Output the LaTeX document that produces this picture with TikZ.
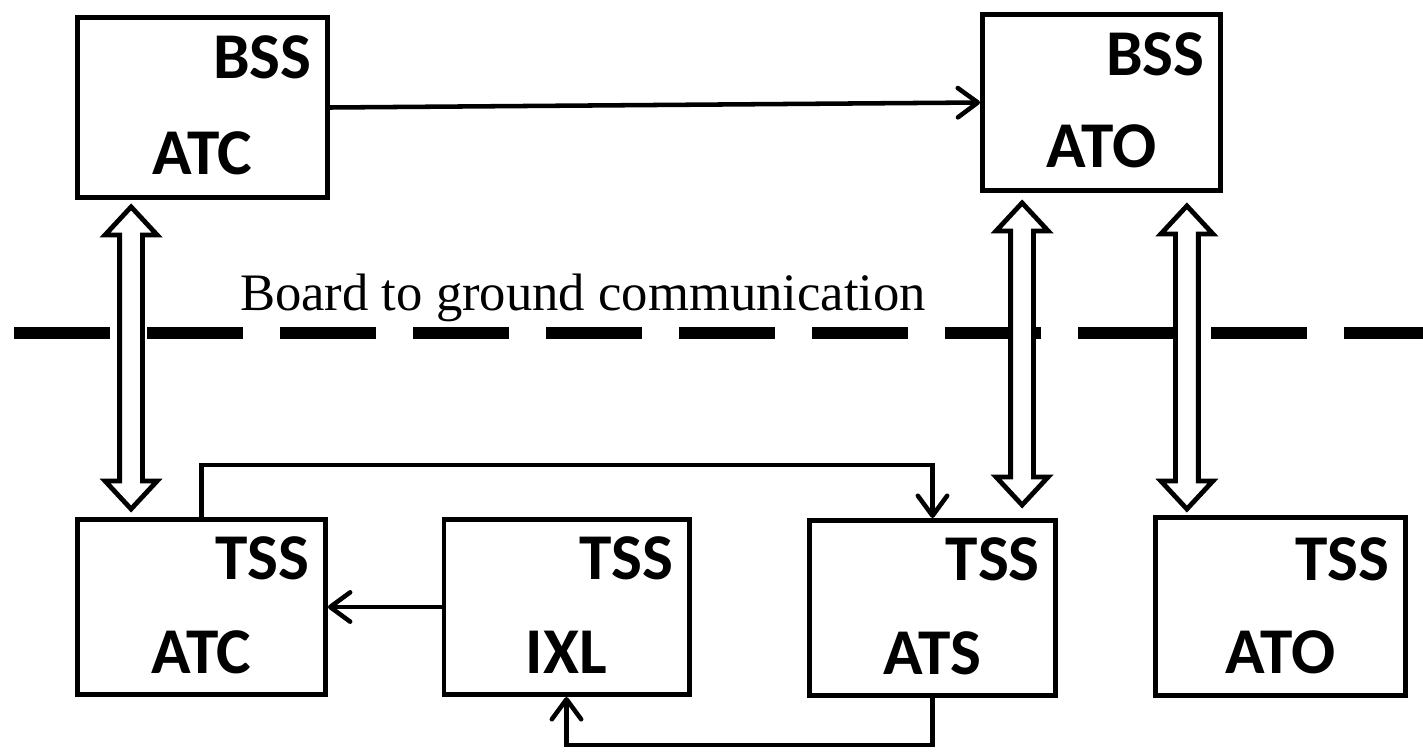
\documentclass[tikz,border=0pt]{standalone}
\usepackage{fontspec}
\usepackage{graphicx}
\setmainfont{Carlito}
\newfontfamily\tnr{Liberation Serif}
\usetikzlibrary{arrows.meta,calc}
\begin{document}
\begin{tikzpicture}[x=0.75pt,y=-0.75pt,
  box/.style={draw, line width=3.6pt, inner sep=0pt, fill=white},
  lab/.style={font=\bfseries\fontsize{49}{49}\selectfont, inner sep=0pt},
  conn/.style={line width=3.4pt, -{Straight Barb[length=15pt,width=22pt,round]}},
  sep/.style={line width=9pt, dash pattern=on 72pt off 27.75pt},
  hollow/.style={draw, fill=white, line width=3.6pt, line join=miter,
    to path={let \p1=(\tikztostart), \p2=(\tikztotarget) in
      (\x1,\y1) -- (\x1+19.5pt,\y1-21pt) -- (\x1+8.6pt,\y1-21pt)
      -- (\x1+8.6pt,\y2+21pt) -- (\x1+19.5pt,\y2+21pt) -- (\x1,\y2)
      -- (\x1-19.5pt,\y2+21pt) -- (\x1-8.6pt,\y2+21pt)
      -- (\x1-8.6pt,\y1-21pt) -- (\x1-19.5pt,\y1-21pt) -- cycle}}
]
\useasboundingbox (0,0) rectangle (1423,753);

% dashed separator
\coordinate (dl) at (14,333);
\coordinate (dr) at (1440,333);
\begin{scope}
\clip (0,0) rectangle (1423,753);
\draw[sep] (dl) -- (dr);
\end{scope}

% boxes
\node[box, minimum width=187.5pt, minimum height=135pt] (bATC) at (202.5,107.5) {};
\node[box, minimum width=178.5pt, minimum height=132pt] (bATO) at (1101.5,102.5) {};
\node[box, minimum width=186pt, minimum height=131.4pt] (tATC) at (201.5,607) {};
\node[box, minimum width=183.9pt, minimum height=131.4pt] (tIXL) at (566.5,607) {};
\node[box, minimum width=184.6pt, minimum height=131.4pt] (tATS) at (932.5,608) {};
\node[box, minimum width=187.5pt, minimum height=133.6pt] (tATO) at (1280.5,606.5) {};

% labels
\node[lab, anchor=base east] (bATCt) at ([shift={(-18,63)}]bATC.north east) {BSS};
\node[lab, anchor=base] (bATCb) at ([shift={(0,-25)}]bATC.south) {ATC};
\node[lab, anchor=base east] (bATOt) at ([shift={(-18,63)}]bATO.north east) {BSS};
\node[lab, anchor=base] (bATOb) at ([shift={(0,-25)}]bATO.south) {ATO};
\node[lab, anchor=base east] (tATCt) at ([shift={(-18,62)}]tATC.north east) {TSS};
\node[lab, anchor=base] (tATCb) at ([shift={(0,-24)}]tATC.south) {ATC};
\node[lab, anchor=base east] (tIXLt) at ([shift={(-18,62)}]tIXL.north east) {TSS};
\node[lab, anchor=base] (tIXLb) at ([shift={(0,-24)}]tIXL.south) {IXL};
\node[lab, anchor=base east] (tATSt) at ([shift={(-18,62)}]tATS.north east) {TSS};
\node[lab, anchor=base] (tATSb) at ([shift={(0,-24)}]tATS.south) {ATS};
\node[lab, anchor=base east] (tATOt) at ([shift={(-18,65)}]tATO.north east) {TSS};
\node[lab, anchor=base] (tATOb) at ([shift={(0,-24)}]tATO.south) {ATO};

\node[font=\tnr\fontsize{39.5}{40}\selectfont, anchor=base, inner sep=0pt] (b2g) at (583,310) {Board to ground communication};

% connectors
\draw[conn] (bATC.east) -- (bATO.west);
\draw[conn] (tIXL.west) -- (tATC.east);
\coordinate (topy) at (0,465);
\coordinate (boty) at (0,745);
\draw[conn] (tATC.north) -- (tATC.north |- topy) -| (tATS.north);
\draw[conn] (tATS.south) -- (tATS.south |- boty) -| (tIXL.south);

% hollow double arrows
\draw[hollow] ([shift={(56,7)}]bATC.south west) to ([shift={(56,-8)}]tATC.north west);
\draw[hollow] ([shift={(42,10)}]bATO.south west) to ([shift={(-36,-13)}]tATS.north east);
\draw[hollow] ([shift={(-36,13)}]bATO.south east) to ([shift={(34,-6)}]tATO.north west);
\end{tikzpicture}
\end{document}
